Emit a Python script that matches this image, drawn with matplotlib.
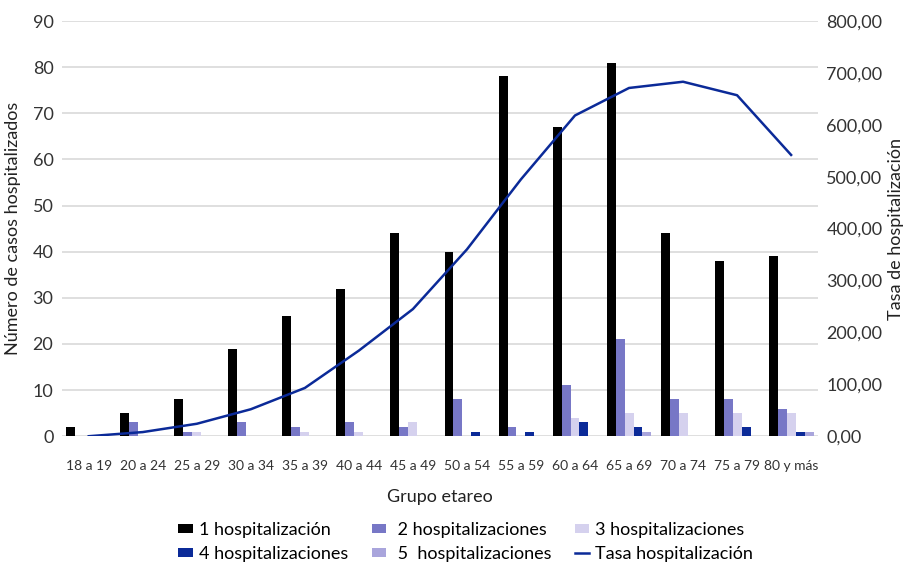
import matplotlib
matplotlib.use("Agg")
import matplotlib.pyplot as plt
import numpy as np

plt.rcParams['font.family'] = ['Lato', 'DejaVu Sans']

groups = ["18 a 19", "20 a 24", "25 a 29", "30 a 34", "35 a 39", "40 a 44", "45 a 49",
          "50 a 54", "55 a 59", "60 a 64", "65 a 69", "70 a 74", "75 a 79", "80 y más"]
hosp_1 = [2, 5, 8, 19, 26, 32, 44, 40, 78, 67, 81, 44, 38, 39]
hosp_2 = [0, 3, 1, 3, 2, 3, 2, 8, 2, 11, 21, 8, 8, 6]
hosp_3 = [0, 0, 1, 0, 1, 1, 3, 0, 0, 4, 5, 5, 5, 5]
hosp_4 = [0, 0, 0, 0, 0, 0, 0, 1, 1, 3, 2, 0, 2, 1]
hosp_5 = [0, 0, 0, 0, 0, 0, 0, 0, 0, 0, 1, 0, 0, 1]
tasa = [0, 8, 24, 52, 93, 165, 245, 360, 495, 618, 671, 683, 657, 542]

series = [
    ("1 hospitalización", hosp_1, "#000000"),
    (" 2 hospitalizaciones", hosp_2, "#7777C6"),
    ("3 hospitalizaciones", hosp_3, "#D5D1EE"),
    ("4 hospitalizaciones", hosp_4, "#0B2A98"),
    (" 5  hospitalizaciones", hosp_5, "#A9A5DC"),
]

fig = plt.figure(figsize=(9.08, 5.68), dpi=100)
ax = fig.add_axes([0.068, 0.232, 0.833, 0.731])
ax2 = ax.twinx()

x = np.arange(len(groups))
w = 0.166
handles = []
for i, (name, vals, col) in enumerate(series):
    b = ax.bar(x + (i - 2) * w, vals, width=w, color=col, label=name, zorder=3)
    handles.append(b)

line, = ax2.plot(x, tasa, color="#0B2A98", lw=1.8, label="Tasa hospitalización", zorder=4)
handles.append(line)

ax.set_xlim(-0.5, len(groups) - 0.5)
ax.set_ylim(0, 90)
ax.set_yticks(np.arange(0, 91, 10))
ax2.set_ylim(0, 800)
ax2.set_yticks(np.arange(0, 801, 100))
ax2.set_yticklabels([f"{v:.2f}".replace(".", ",") for v in range(0, 801, 100)])

ax.grid(axis="y", color="#D9D9D9", lw=1.2, zorder=0)
ax.set_axisbelow(True)
for a in (ax, ax2):
    for s in a.spines.values():
        s.set_visible(False)
    a.tick_params(length=0, colors="#333333")

ax.set_xticks(x)
ax.set_xticklabels(groups, fontsize=10)
ax.tick_params(axis="x", pad=17)
ax.tick_params(axis="y", labelsize=13, pad=6)
ax2.tick_params(axis="y", labelsize=13, pad=6)

ax.set_xlabel("Grupo etareo", fontsize=13, color="#222222", labelpad=12)
ax.set_ylabel("Número de casos hospitalizados", fontsize=13, color="#222222", labelpad=8)
ax2.set_ylabel("Tasa de hospitalización", fontsize=13, color="#222222", labelpad=4)

# legend is filled column by column: reorder so rows read 1,2,3 / 4,5,tasa
order = [0, 3, 1, 4, 2, 5]
leg_handles = [handles[k] for k in order]
fig.legend(handles=leg_handles, labels=[h.get_label() for h in leg_handles],
           loc="lower center", bbox_to_anchor=(0.513, -0.018), ncol=3, frameon=False,
           fontsize=13, handlelength=0.8, handleheight=0.4, columnspacing=1.3,
           labelspacing=0.45, handletextpad=0.35)

fig.savefig("out.png", dpi=100, facecolor="white")
